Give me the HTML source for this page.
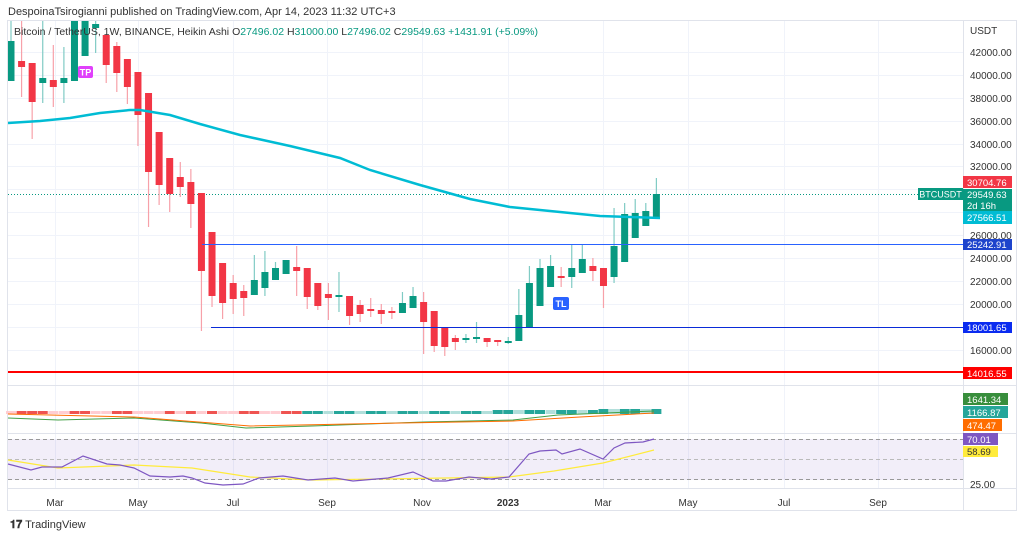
<!DOCTYPE html>
<html><head><meta charset="utf-8"><style>
body{margin:0;background:#fff;width:1024px;height:538px;overflow:hidden;font-family:"Liberation Sans",sans-serif}
svg{position:absolute;left:0;top:0}
</style></head><body>
<svg id="s" width="1024" height="538" xmlns="http://www.w3.org/2000/svg" font-family="Liberation Sans, sans-serif">
<rect width="1024" height="538" fill="#fff"/>
<text x="8" y="15" font-size="11" fill="#333">DespoinaTsirogianni published on TradingView.com, Apr 14, 2023 11:32 UTC+3</text>
<rect x="7.5" y="20.5" width="1009" height="490" fill="none" stroke="#e0e3eb"/>
<g id="grid" stroke="#f0f3fa" stroke-width="1"></g>
<line x1="8" y1="385.5" x2="1017" y2="385.5" stroke="#e0e3eb"/>
<line x1="8" y1="433.5" x2="1017" y2="433.5" stroke="#e0e3eb"/>
<line x1="8" y1="488.5" x2="1017" y2="488.5" stroke="#e0e3eb"/>
<line x1="963.5" y1="20" x2="963.5" y2="510" stroke="#e0e3eb"/>
<defs><clipPath id="c"><rect x="8" y="21" width="955" height="364"/></clipPath></defs>
<g clip-path="url(#c)">
<line x1="8" y1="194.5" x2="963" y2="194.5" stroke="#089981" stroke-dasharray="1 2"/>
<g id="cs"></g>
<polyline fill="none" stroke="#00bcd4" stroke-width="2.5" points="8,123 40,121 70,118 100,113 130,110 140,110 170,115 200,124 240,135 290,146 340,158 370,170 420,185 470,199 510,207 560,212 600,216 630,217 660,218"/>
</g>
<line x1="202" y1="244.5" x2="963" y2="244.5" stroke="#2962ff"/>
<line x1="211" y1="327.5" x2="963" y2="327.5" stroke="#0a2bd8"/>
<line x1="8" y1="372" x2="963" y2="372" stroke="#ff0000" stroke-width="2"/>
<text x="14" y="35" font-size="10.5" fill="#333">Bitcoin / TetherUS, 1W, BINANCE, Heikin Ashi  <tspan fill="#333">O</tspan><tspan fill="#089981">27496.02</tspan>  H<tspan fill="#089981">31000.00</tspan>  L<tspan fill="#089981">27496.02</tspan>  C<tspan fill="#089981">29549.63  +1431.91 (+5.09%)</tspan></text>
<rect x="78" y="66" width="15" height="12" rx="2" fill="#e040fb"/><text x="85.5" y="75.5" font-size="9" fill="#fff" text-anchor="middle" font-weight="bold">TP</text>
<rect x="553" y="297" width="16" height="13" rx="2" fill="#2962ff"/><text x="561" y="307" font-size="9" fill="#fff" text-anchor="middle" font-weight="bold">TL</text>
<g id="hist"></g>
<polyline fill="none" stroke="#43a047" stroke-width="1" points="8,418 58,420 134,418 201,423 246,428 312,426 424,422 513,420 558,415 654,411"/>
<polyline fill="none" stroke="#ff6d00" stroke-width="1" points="8,414 134,417 250,426 402,423 513,421 580,417 654,413"/>
<rect x="8" y="439" width="955" height="41" fill="#7e57c2" fill-opacity="0.1"/>
<line x1="8" y1="439.5" x2="963" y2="439.5" stroke="#999" stroke-dasharray="4 3"/>
<line x1="8" y1="459.5" x2="963" y2="459.5" stroke="#bbb" stroke-dasharray="4 3"/>
<line x1="8" y1="479.5" x2="963" y2="479.5" stroke="#999" stroke-dasharray="4 3"/>
<polyline fill="none" stroke="#ffeb3b" stroke-width="1.2" points="8,460 58,468 134,465 192,468 250,477 312,480 446,478 509,477 554,471 603,463 654,450"/>
<polyline fill="none" stroke="#7e57c2" stroke-width="1.2" points="8,464 31,470 42,467 62,467 83,456 107,464 120,465 134,468 150,476 170,477 183,476 192,478 205,483 223,485 243,484 259,478 283,476 308,480 335,478 353,481 388,478 413,472 433,481 446,481 469,477 491,479 509,477 529,454 540,451 556,450 562,454 580,449 603,459 614,448 625,443 643,442 654,439"/>
<g font-size="10" fill="#333" text-anchor="middle">
<text x="55" y="506">Mar</text><text x="138" y="506">May</text><text x="233" y="506">Jul</text><text x="327" y="506">Sep</text><text x="422" y="506">Nov</text><text x="508" y="506" font-weight="bold">2023</text><text x="603" y="506">Mar</text><text x="688" y="506">May</text><text x="784" y="506">Jul</text><text x="878" y="506">Sep</text>
</g>
<g font-size="10" fill="#333">
<text x="970" y="34">USDT</text>
<text x="970" y="56">42000.00</text><text x="970" y="79">40000.00</text><text x="970" y="102">38000.00</text><text x="970" y="125">36000.00</text><text x="970" y="148">34000.00</text><text x="970" y="170">32000.00</text><text x="970" y="239">26000.00</text><text x="970" y="262">24000.00</text><text x="970" y="285">22000.00</text><text x="970" y="308">20000.00</text><text x="970" y="354">16000.00</text><text x="970" y="488">25.00</text>
</g>
<g font-size="9.5" fill="#fff">
<rect x="918" y="188" width="45" height="12" fill="#089981"/><text x="940.5" y="197.5" text-anchor="middle" font-size="9">BTCUSDT</text>
<rect x="963" y="176" width="49" height="12" fill="#f23645"/><text x="967" y="186">30704.76</text>
<rect x="963" y="189" width="49" height="22" fill="#089981"/><text x="967" y="198">29549.63</text><text x="967" y="209">2d 16h</text>
<rect x="963" y="211" width="49" height="13" fill="#00bcd4"/><text x="967" y="221">27566.51</text>
<rect x="963" y="239" width="49" height="11" fill="#1e44cc"/><text x="967" y="248">25242.91</text>
<rect x="963" y="322" width="49" height="11" fill="#0a2bf0"/><text x="967" y="331">18001.65</text>
<rect x="963" y="367" width="49" height="12" fill="#ff0000"/><text x="967" y="377">14016.55</text>
<rect x="963" y="393" width="45" height="12" fill="#388e3c"/><text x="967" y="403">1641.34</text>
<rect x="963" y="406" width="45" height="12" fill="#26a69a"/><text x="967" y="416">1166.87</text>
<rect x="963" y="419" width="39" height="12" fill="#ff6d00"/><text x="967" y="429">474.47</text>
<rect x="963" y="433" width="35" height="12" fill="#7e57c2"/><text x="967" y="443">70.01</text>
<rect x="963" y="446" width="35" height="11" fill="#ffeb3b"/><text x="967" y="455" fill="#333">58.69</text>
</g>
<text x="10" y="528" font-size="11" fill="#333"><tspan font-weight="bold">𝟏𝟕</tspan> TradingView</text>
</svg>
<script>
var ns="http://www.w3.org/2000/svg";
function el(p,t,a){var e=document.createElementNS(ns,t);for(var k in a)e.setAttribute(k,a[k]);p.appendChild(e);return e;}
var g=document.getElementById("grid");
[52,75,98,121,144,166,189,212,235,258,281,304,327,350].forEach(function(y){el(g,"line",{x1:8,x2:963,y1:y+.5,y2:y+.5});});
[55,138,233,327,422,508,603,688,784,878].forEach(function(x){el(g,"line",{x1:x+.5,x2:x+.5,y1:21,y2:488});});
var d=[[20,41,81,81,1],[20,61,67,97,0],[63,63,102,139,0],[20,78,83,103,1],[45,80,87,107,0],[47,78,83,103,1],[20,20,81,81,1],[20,20,56,56,1],[20,24,28,53,1],[35,35,65,83,0],[42,46,73,92,0],[59,59,87,104,0],[72,72,115,146,0],[93,93,172,227,0],[132,132,185,205,0],[158,158,194,212,0],[162,177,187,197,0],[169,182,204,228,0],[193,193,271,331,0],[232,232,296,307,0],[263,263,303,319,0],[275,283,299,314,0],[285,291,298,316,0],[255,280,295,295,1],[251,272,288,296,1],[262,268,280,280,1],[260,260,274,274,1],[246,267,271,296,0],[268,268,297,309,0],[283,283,306,310,0],[283,294,298,320,0],[272,295,297,312,1],[296,296,316,325,0],[300,305,314,322,0],[298,309,311,317,0],[304,310,314,324,0],[307,311,313,319,0],[292,303,313,313,1],[287,296,308,308,1],[292,302,322,354,0],[311,311,346,352,0],[328,328,347,356,0],[335,338,342,350,0],[334,338,340,343,1],[322,337,339,343,1],[338,338,342,347,0],[340,340,342,346,0],[337,341,342,344,1],[289,315,341,341,1],[266,283,328,328,1],[259,268,306,306,1],[255,266,287,287,1],[267,276,277,287,0],[244,268,277,288,1],[244,259,273,273,1],[258,266,271,281,0],[268,268,286,308,0],[208,246,277,283,1],[203,214,262,262,1],[199,213,238,238,1],[203,211,226,226,1],[178,194,219,219,1]];
var cs=document.getElementById("cs"),h=document.getElementById("hist");
d.forEach(function(c,i){var x=11+i*10.58;var col=c[4]?"#089981":"#f23645";var wc=c[4]?"#80cbc4":"#f7a1a9";
el(cs,"line",{x1:x,x2:x,y1:c[0],y2:c[3],stroke:wc,"stroke-width":1.2});
el(cs,"rect",{x:x-3.5,y:c[1],width:7,height:Math.max(2,c[2]-c[1]),fill:col});
var hc=i<28?(i%4<2?"#ffcdd2":"#ef5350"):(i%3==0?"#b2dfdb":"#26a69a");if(i<2||(i>=14&&i<20))hc=i%2?"#ef5350":"#ffcdd2";
var hh=i>55?5:(i>45?4:3);el(h,"rect",{x:x-5,y:414-hh,width:10,height:hh,fill:hc});});
</script>
</body></html>
